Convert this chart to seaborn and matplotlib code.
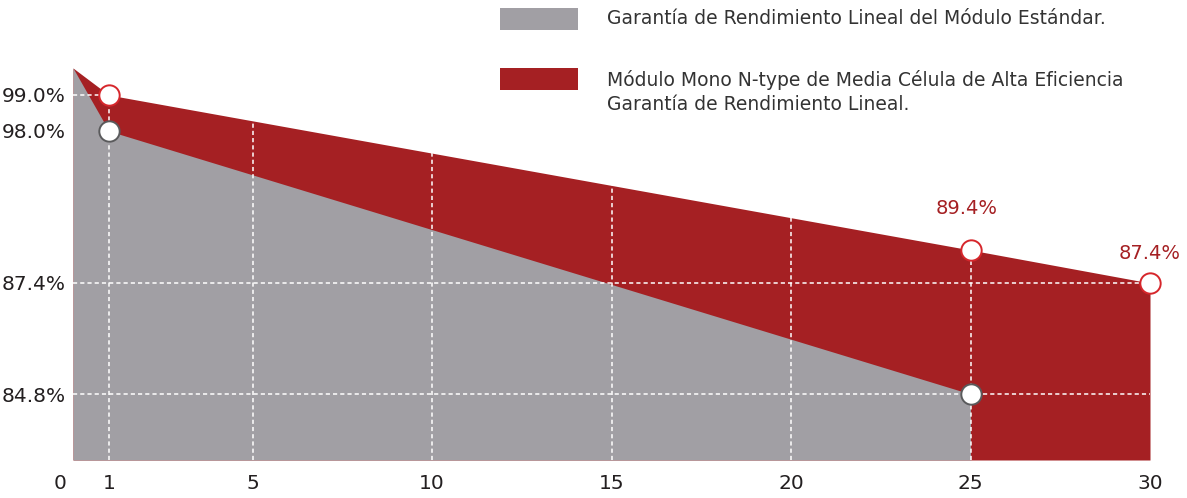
import numpy as np
import pandas as pd
import matplotlib
matplotlib.use("Agg")
import matplotlib.pyplot as plt
import matplotlib.transforms as mtransforms
from matplotlib.patches import Rectangle
import seaborn as sns

# ---------------- data ----------------
years_std = [0, 1, 25]
values_std = [100.0, 98.0, 84.8]
years_n = [0, 1, 25, 30]
values_n = [100.0, 99.0, 89.4, 87.4]

marker_years_std = [1, 25]
marker_values_std = [98.0, 84.8]
marker_years_n = [1, 25, 30]
marker_values_n = [99.0, 89.4, 87.4]

ytick_values = [99.0, 98.0, 87.4, 84.8]
ytick_labels = ["99.0%", "98.0%", "87.4%", "84.8%"]
xtick_values = [0, 1, 5, 10, 15, 20, 25, 30]
xtick_labels = ["0", "1", "5", "10", "15", "20", "25", "30"]

annot_years = [25, 30]
annot_values = [89.4, 87.4]
annot_labels = ["89.4%", "87.4%"]

grid_x = [1, 5, 10, 15, 20, 25]
grid_y = [99.0, 87.4, 84.8]

legend_labels = [
    "Garantía de Rendimiento Lineal del Módulo Estándar.",
    "Módulo Mono N-type de Media Célula de Alta Eficiencia\nGarantía de Rendimiento Lineal.",
]

# ---------------- style ----------------
GRAY = "#A19FA4"
RED = "#A52023"
RED_EDGE = "#D6262B"
GRAY_EDGE = "#5A5A5C"
TEXT = "#231F20"
LEG_TEXT = "#333333"
Y_MIN = 82.0

sns.set_theme(style="white")
plt.rcParams["font.family"] = ["DejaVu Sans"]
plt.rcParams["lines.scale_dashes"] = False

# schematic (non-uniform) vertical scale as in the original graphic
KNOT_VALS = np.array([82.0, 84.8, 87.4, 89.4, 98.0, 99.0, 100.0])
KNOT_POS = np.array([0.0, 66.0, 177.0, 210.0, 329.0, 365.0, 392.0])


def fwd(v):
    return np.interp(v, KNOT_VALS, KNOT_POS)


def inv(p):
    return np.interp(p, KNOT_POS, KNOT_VALS)


W, H = 1187, 498
fig = plt.figure(figsize=(W / 100, H / 100), dpi=100)
ax = fig.add_axes([73 / W, 38 / H, (1150 - 73) / W, 392 / H])
ax.set_yscale("function", functions=(fwd, inv))
ax.set_xlim(0, 30)
ax.set_ylim(Y_MIN, 100)

red_fill = ax.fill_between(years_n, values_n, Y_MIN, color=RED, lw=0, zorder=1, clip_on=False)
ax.fill_between(years_std, values_std, Y_MIN, color=GRAY, lw=0, zorder=2, clip_on=False)

clip_path = red_fill.get_paths()[0]
dash = (0, (3.0, 2.2))
for gx in grid_x:
    ln = ax.axvline(gx, color="white", lw=1.1, ls=dash, zorder=3)
    ln.set_clip_path(clip_path, ax.transData)
for gy in grid_y:
    ln = ax.axhline(gy, color="white", lw=1.1, ls=dash, zorder=3)
    ln.set_clip_path(clip_path, ax.transData)

sns.scatterplot(x=marker_years_n, y=marker_values_n, ax=ax, s=215, color="white",
                edgecolor=RED_EDGE, linewidth=1.4, zorder=5, clip_on=False)
sns.scatterplot(x=marker_years_std, y=marker_values_std, ax=ax, s=215, color="white",
                edgecolor=GRAY_EDGE, linewidth=1.4, zorder=5, clip_on=False)

annot_offsets = [(-3, 30), (0, 21)]
for x, v, lab, off in zip(annot_years, annot_values, annot_labels, annot_offsets):
    ax.annotate(lab, (x, v), xytext=off, textcoords="offset points", ha="center",
                va="center", color=RED, fontsize=14)

ax.set_xticks(xtick_values)
ax.set_xticklabels(xtick_labels)
ax.set_yticks(ytick_values)
ax.set_yticklabels(ytick_labels)
ax.tick_params(axis="both", length=0, labelsize=14.5, colors=TEXT)
ax.tick_params(axis="x", pad=10)
ax.tick_params(axis="y", pad=5)
# the "0" label sits slightly left of the origin in the original
lab0 = ax.get_xticklabels()[0]
lab0.set_transform(lab0.get_transform() + mtransforms.ScaledTranslation(-13 / 100, 0, fig.dpi_scale_trans))
for s in ax.spines.values():
    s.set_visible(False)
ax.grid(False)

# legend (drawn as figure-level patches and text)
fig.patches.append(Rectangle((500 / W, 1 - 30 / H), 78 / W, 22 / H, transform=fig.transFigure,
                             color=GRAY, lw=0))
fig.patches.append(Rectangle((500 / W, 1 - 90 / H), 78 / W, 22 / H, transform=fig.transFigure,
                             color=RED, lw=0))
fig.text(607 / W, 1 - 19 / H, legend_labels[0], ha="left", va="center", fontsize=13.5, color=LEG_TEXT)
fig.text(607 / W, 1 - 92 / H, legend_labels[1], ha="left", va="center", fontsize=13.5, color=LEG_TEXT,
         linespacing=1.35)

fig.savefig("out.png", dpi=100)
